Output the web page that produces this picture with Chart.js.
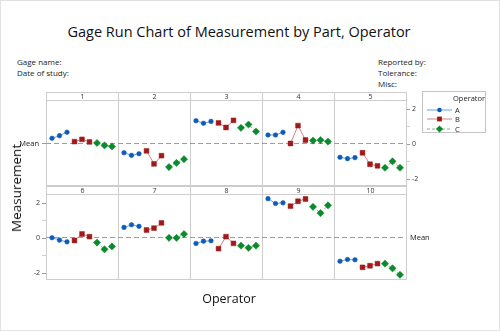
<!DOCTYPE html>
<html>
<head>
<meta charset="utf-8">
<script src="https://cdn.jsdelivr.net/npm/chart.js@4.4.1/dist/chart.umd.min.js"></script>
<style>
    body { margin: 0; background: #fff; font-family: "Open Sans", sans-serif; color: #222; }
    #frame { position: relative; width: 498px; height: 329px; border: 1px solid #e2e2e2; overflow: hidden; }
    .txt { position: absolute; white-space: nowrap; font-size: 8px; line-height: 10px; }
    #title { position: absolute; left: 0; width: 476px; top: 20px; text-align: center; font-size: 14.5px; line-height: 22px; color: #111; }
    #ylab { position: absolute; left: 15px; top: 187px; transform: translate(-50%, -50%) rotate(-90deg); font-size: 13.5px; white-space: nowrap; color: #111; }
    #xlab { position: absolute; left: 228px; top: 297px; transform: translate(-50%, -50%); font-size: 12.5px; color: #111; }
    canvas.row { position: absolute; left: 0; }
    #legend { position: absolute; left: 421px; top: 90px; width: 64px; height: 42px; border: 1px solid #c4c4c4; box-sizing: border-box; }
    #legend .ttl { position: absolute; left: 30px; top: 1px; font-size: 7.5px; line-height: 10px; }
    #legend .item { position: absolute; left: 3px; height: 10px; width: 58px; }
    #legend .item svg { display: block; position: absolute; left: 0; top: 0; }
    #legend .item span { position: absolute; left: 29px; top: 0; font-size: 7.5px; line-height: 10px; }
</style>
</head>
<body>
<div id="frame">
    <div id="title">Gage Run Chart of Measurement by Part, Operator</div>
    <div class="txt" style="left:16px;top:56px">Gage name:</div>
    <div class="txt" style="left:16px;top:67px">Date of study:</div>
    <div class="txt" style="left:377px;top:56px">Reported by:</div>
    <div class="txt" style="left:377px;top:67px">Tolerance:</div>
    <div class="txt" style="left:377px;top:78px">Misc:</div>
    <canvas class="row" id="row1" width="440" height="105" style="top:87px"></canvas>
    <canvas class="row" id="row2" width="440" height="105" style="top:181px"></canvas>
    <div id="legend"></div>
    <div id="ylab">Measurement</div>
    <div id="xlab">Operator</div>
</div>
<script>
// Data: 10 parts, 3 operators, 3 trials each
const parts = ['1', '2', '3', '4', '5', '6', '7', '8', '9', '10'];
const operators = ['A', 'B', 'C'];

const opA = [
    [0.34, 0.49, 0.69], [-0.49, -0.64, -0.55], [1.35, 1.20, 1.31], [0.53, 0.53, 0.68], [-0.75, -0.83, -0.77],
    [0.03, -0.11, -0.21], [0.62, 0.77, 0.68], [-0.30, -0.17, -0.15], [2.27, 1.99, 2.03], [-1.32, -1.22, -1.24]
];
const opB = [
    [0.15, 0.28, 0.13], [-0.38, -1.13, -0.66], [1.22, 0.96, 1.37], [0.04, 1.07, 0.24], [-0.49, -1.15, -1.24],
    [-0.13, 0.24, 0.09], [0.47, 0.58, 0.88], [-0.60, 0.09, -0.30], [1.84, 2.12, 2.25], [-1.67, -1.58, -1.46]
];
const opC = [
    [0.07, -0.07, -0.13], [-1.31, -1.07, -0.86], [0.94, 1.13, 0.73], [0.21, 0.24, 0.15], [-1.35, -0.98, -1.35],
    [-0.25, -0.64, -0.47], [0.02, 0.02, 0.24], [-0.43, -0.55, -0.43], [1.80, 1.44, 1.89], [-1.46, -1.73, -2.10]
];

const yTicks = [-2, -1, 0, 1, 2];
const yLabelled = [-2, 0, 2];

const opData = [opA, opB, opC];
const opStyle = [
    { color: '#0c5cb8', line: 'rgba(60,130,210,0.75)', shape: 'circle', r: 2.3, dash: [] },
    { color: '#a11a1a', line: 'rgba(200,90,90,0.75)', shape: 'rect', r: 3.4, dash: [] },
    { color: '#0b8a2c', line: 'rgba(70,170,90,0.75)', shape: 'rectRot', r: 3.6, dash: [3, 2] }
];

const all = [].concat(...opA, ...opB, ...opC);
const grandMean = all.reduce((s, v) => s + v, 0) / all.length;

const PANEL = 9.6;   // x units per part panel
const perRow = 5;
const gridCol = '#cdcdcd';
const tickFont = { family: 'Open Sans', size: 7 };

// part strip labels above every panel
const stripPlugin = {
    id: 'strips',
    afterDraw(chart, args, opts) {
        const { ctx, chartArea, scales } = chart;
        ctx.save();
        ctx.strokeStyle = gridCol;
        ctx.lineWidth = 1;
        ctx.font = '7px "Open Sans"';
        ctx.fillStyle = '#333';
        ctx.textAlign = 'center';
        ctx.textBaseline = 'middle';
        for (let j = 0; j < perRow; j++) {
            const x0 = Math.round(scales.x.getPixelForValue(j * PANEL)) + 0.5;
            const x1 = Math.round(scales.x.getPixelForValue((j + 1) * PANEL)) + 0.5;
            const top = Math.round(chartArea.top) - 8.5;
            ctx.strokeRect(x0, top, x1 - x0, 8);
            ctx.fillText(opts.labels[j], (x0 + x1) / 2, top + 4.5);
        }
        ctx.restore();
    }
};

function makeRow(id, first, valueSide) {
    const meanSide = valueSide === 'right' ? 'left' : 'right';
    const datasets = [];
    for (let j = 0; j < perRow; j++) {
        const p = first + j;
        opData.forEach((series, o) => {
            const st = opStyle[o];
            datasets.push({
                data: series[p].map((v, r) => ({ x: j * PANEL + o * 3 + r + 0.8, y: v })),
                borderColor: st.line,
                borderWidth: 1,
                borderDash: st.dash,
                pointStyle: st.shape,
                pointRadius: st.r,
                pointBackgroundColor: st.color,
                pointBorderColor: st.color,
                pointBorderWidth: 0.5,
                tension: 0
            });
        });
    }
    // mean reference line
    datasets.push({
        data: [{ x: 0, y: grandMean }, { x: perRow * PANEL, y: grandMean }],
        borderColor: '#9c9c9c',
        borderWidth: 1,
        borderDash: [5, 3],
        pointRadius: 0
    });

    const yRange = { min: -2.37, max: 2.48 };

    return new Chart(document.getElementById(id), {
        type: 'line',
        data: { datasets },
        plugins: [stripPlugin],
        options: {
            responsive: false,
            animation: false,
            layout: { padding: { top: 13, bottom: 6 } },
            plugins: {
                legend: { display: false },
                tooltip: { enabled: false },
                strips: { labels: parts.slice(first, first + perRow) }
            },
            scales: {
                x: {
                    type: 'linear', min: 0, max: perRow * PANEL,
                    afterBuildTicks: s => { s.ticks = Array.from({ length: perRow + 1 }, (_, i) => ({ value: i * PANEL })); },
                    ticks: { display: false },
                    grid: { color: gridCol, drawTicks: false },
                    border: { color: gridCol },
                    afterFit: s => { s.height = 0; }
                },
                y: {
                    ...yRange,
                    position: valueSide,
                    afterBuildTicks: s => { s.ticks = yTicks.map(v => ({ value: v })); },
                    ticks: {
                        font: tickFont, color: '#333', padding: 2,
                        callback: v => yLabelled.includes(v) ? String(v) : ''
                    },
                    grid: {
                        drawOnChartArea: false, tickLength: 4,
                        color: c => (c.tick && yLabelled.includes(c.tick.value)) ? '#9a9a9a' : '#d0d0d0'
                    },
                    border: { color: gridCol },
                    afterFit: s => { s.width = valueSide === 'left' ? 45 : 35; }
                },
                yMean: {
                    ...yRange,
                    position: meanSide,
                    afterBuildTicks: s => { s.ticks = [{ value: grandMean }]; },
                    ticks: { font: { family: 'Open Sans', size: 7.5 }, color: '#222', padding: 3, callback: () => 'Mean' },
                    grid: { drawOnChartArea: false, tickLength: meanSide === 'left' ? 4 : 1, color: '#9c9c9c' },
                    border: { color: gridCol },
                    afterFit: s => { s.width = meanSide === 'left' ? 45 : 35; }
                }
            }
        }
    });
}

makeRow('row1', 0, 'right');
makeRow('row2', 5, 'left');

// legend box
const legend = document.getElementById('legend');
legend.innerHTML = '<div class="ttl">Operator</div>';
operators.forEach((name, o) => {
    const st = opStyle[o];
    let mark;
    if (st.shape === 'circle') mark = `<circle cx="13.5" cy="5" r="2.3" fill="${st.color}"/>`;
    else if (st.shape === 'rect') mark = `<rect x="11.1" y="2.6" width="4.8" height="4.8" fill="${st.color}"/>`;
    else mark = `<polygon points="13.5,1.4 17.1,5 13.5,8.6 9.9,5" fill="${st.color}"/>`;
    const dash = st.dash.length ? `stroke-dasharray="${st.dash.join(',')}"` : '';
    const div = document.createElement('div');
    div.className = 'item';
    div.style.top = (12.5 + o * 9.7) + 'px';
    div.innerHTML = `<svg width="27" height="10"><line x1="1" y1="5" x2="26" y2="5" stroke="${st.line}" stroke-width="1" ${dash}/>${mark}</svg><span>${name}</span>`;
    legend.appendChild(div);
});
</script>
</body>
</html>
